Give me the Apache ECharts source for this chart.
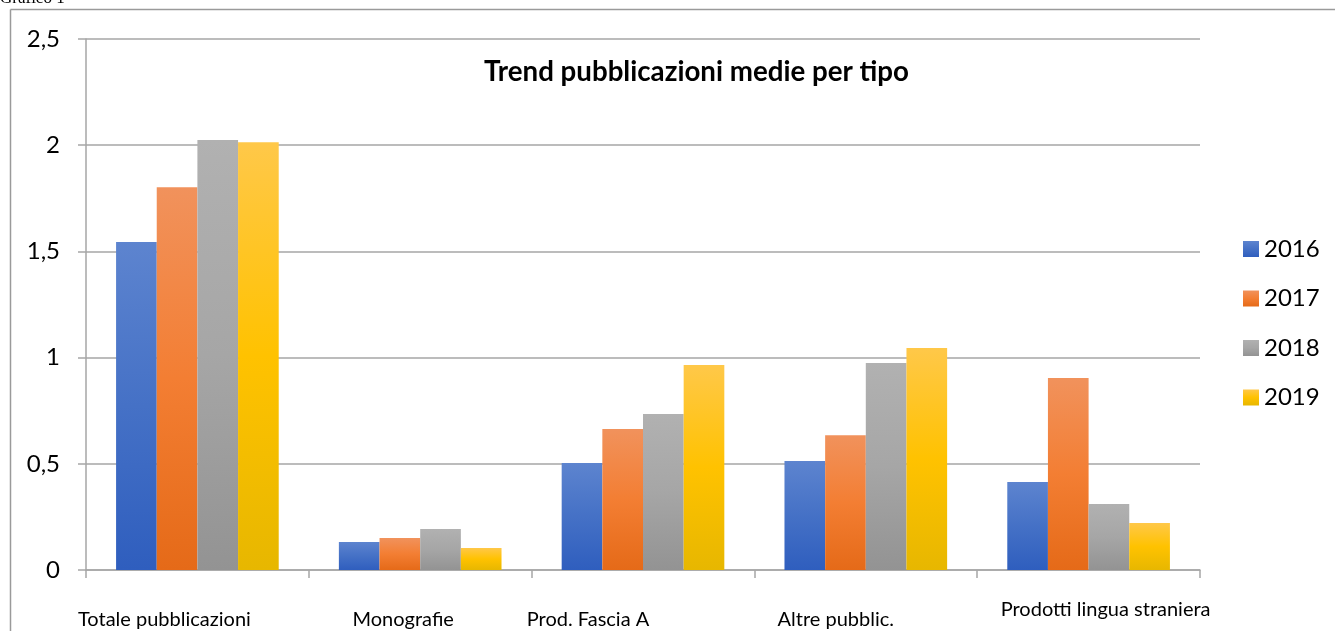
<!DOCTYPE html>
<html>
<head>
<meta charset="utf-8">
<script src="https://cdn.jsdelivr.net/npm/echarts@6/dist/echarts.min.js"></script>
<style>
html,body{margin:0;padding:0;background:#fff;}
#chart{width:1335px;height:631px;}
</style>
</head>
<body>
<div id="chart"></div>
<script>
var categories = ['Totale pubblicazioni', 'Monografie', 'Prod. Fascia A', 'Altre pubblic.', 'Prodotti lingua straniera'];
var years = ['2016', '2017', '2018', '2019'];
var values2016 = [1.544, 0.132, 0.504, 0.513, 0.414];
var values2017 = [1.802, 0.151, 0.664, 0.635, 0.904];
var values2018 = [2.024, 0.193, 0.734, 0.974, 0.311];
var values2019 = [2.014, 0.104, 0.965, 1.045, 0.221];
var yTicks = {min: 0, max: 2.5, interval: 0.5};

var FONT = 'Lato, "Open Sans", sans-serif';

function grad(top, mid, bot) {
  return new echarts.graphic.LinearGradient(0, 0, 0, 1, [
    {offset: 0, color: top}, {offset: 0.5, color: mid}, {offset: 1, color: bot}
  ]);
}
var fills = [
  grad('#5D84CF', '#4571C6', '#2F5EBE'),
  grad('#F1925C', '#F37E33', '#E56A18'),
  grad('#B1B1B1', '#A6A6A6', '#939393'),
  grad('#FFC849', '#FFC200', '#E7B700')
];
var seriesValues = [values2016, values2017, values2018, values2019];

// per-label rich styles (overlay positions in the reference)
var rich = {
  c0: {padding: [0, 66, 0, 0], lineHeight: 44},
  c1: {padding: [0, 34, 0, 0], lineHeight: 44},
  c2: {padding: [0, 110, 0, 0], lineHeight: 44},
  c3: {padding: [0, 60, 0, 0], lineHeight: 44},
  c4: {padding: [0, 0, 0, 34], lineHeight: 24}
};
Object.keys(rich).forEach(function (k) {
  rich[k].fontFamily = FONT; rich[k].fontSize = 20; rich[k].color = '#000';
});

var chart = echarts.init(document.getElementById('chart'), null, {renderer: 'canvas'});
chart.setOption({
  animation: false,
  backgroundColor: '#fff',
  title: {
    text: 'Trend pubblicazioni medie per tipo',
    left: 484, top: 58, padding: 0,
    textStyle: {fontFamily: FONT, fontWeight: 'bold', fontSize: 27.7, color: '#000'}
  },
  legend: {
    orient: 'vertical',
    left: 1243, top: 237, padding: 0,
    itemWidth: 16, itemHeight: 16, itemGap: 25.5,
    icon: 'rect',
    textStyle: {fontFamily: FONT, fontSize: 24, color: '#000'},
    data: years
  },
  grid: {left: 86, right: 135, top: 39, bottom: 61, containLabel: false},
  xAxis: {
    type: 'category',
    data: categories,
    axisLine: {lineStyle: {color: '#A6A6A6', width: 1.5}},
    axisTick: {show: true, length: 8, lineStyle: {color: '#A6A6A6', width: 1.5}},
    axisLabel: {
      interval: 0, margin: 28,
      formatter: function (v, i) { return '{c' + i + '|' + v + '}'; },
      rich: rich
    }
  },
  yAxis: {
    type: 'value',
    min: yTicks.min, max: yTicks.max, interval: yTicks.interval,
    axisLine: {show: true, lineStyle: {color: '#A6A6A6', width: 1.5}},
    axisTick: {show: true, length: 8, lineStyle: {color: '#A6A6A6', width: 1.5}},
    splitLine: {lineStyle: {color: '#A6A6A6', width: 1.5}},
    axisLabel: {
      margin: 26, fontFamily: FONT, fontSize: 24, color: '#000',
      formatter: function (v) { return String(v).replace('.', ','); }
    }
  },
  series: years.map(function (y, i) {
    return {
      name: y, type: 'bar',
      data: seriesValues[i],
      barGap: '0%', barCategoryGap: '27%',
      itemStyle: {color: fills[i]}
    };
  }),
  graphic: [
    {type: 'text', left: 0, top: -10, style: {text: 'Grafico 1', fontFamily: '"Liberation Serif", serif', fontSize: 17, fill: '#000'}},
    {type: 'line', shape: {x1: 10.5, y1: 9.5, x2: 1335, y2: 9.5}, style: {stroke: '#9A9A9A', lineWidth: 1.5}},
    {type: 'line', shape: {x1: 10.5, y1: 9.5, x2: 10.5, y2: 631}, style: {stroke: '#9A9A9A', lineWidth: 1.5}}
  ]
});
</script>
</body>
</html>
